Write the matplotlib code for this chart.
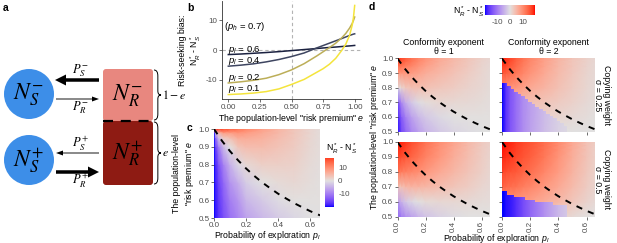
import numpy as np
import matplotlib
matplotlib.use("Agg")
import matplotlib.pyplot as plt
from matplotlib.colors import ListedColormap, Normalize
from matplotlib.patches import Circle, FancyBboxPatch, Polygon, PathPatch
from matplotlib.path import Path

plt.rcParams["font.family"] = ["Liberation Sans", "DejaVu Sans"]
plt.rcParams["mathtext.fontset"] = "custom"
plt.rcParams["mathtext.rm"] = "Liberation Sans"
plt.rcParams["mathtext.it"] = "Liberation Sans:italic"
plt.rcParams["mathtext.bf"] = "Liberation Sans:bold"
plt.rcParams["axes.unicode_minus"] = False

# ---------------- data ----------------
# panel b: risk-seeking bias vs e for several p_l (p_h = 0.7)
b_e = [0.0, 0.1, 0.2, 0.3, 0.4, 0.5, 0.6, 0.7, 0.75, 0.8, 0.85, 0.9, 0.93, 0.96, 0.98, 0.99, 1.0]
b_pl = [0.6, 0.4, 0.2, 0.1]
b_p06 = [-1.54, -1.35, -1.1, -0.85, -0.55, -0.2, 0.15, 0.5, 0.68, 0.85, 1.0, 1.18, 1.28, 1.38, 1.45, 1.5, 1.54]
b_p04 = [-5.45, -5.1, -4.65, -4.0, -3.2, -2.2, -1.0, 0.7, 1.5, 2.3, 3.1, 3.9, 4.4, 4.9, 5.2, 5.35, 5.45]
b_p02 = [-11.1, -10.7, -10.2, -9.5, -8.3, -6.7, -4.6, -2.0, -0.6, 0.8, 2.3, 4.2, 5.6, 7.4, 8.9, 9.9, 11.1]
b_p01 = [-15.0, -14.8, -14.5, -14.0, -13.1, -11.6, -9.9, -7.5, -6.3, -4.8, -2.8, 0.0, 2.0, 5.0, 8.3, 10.8, 15.0]
b_colors = ["#1b2140", "#3e4560", "#bcae58", "#f4e43c"]

# heat-map grids (rows: e, columns: p_l)
hm_p = [0.0, 0.01, 0.03, 0.06, 0.1, 0.15, 0.2, 0.3, 0.4, 0.5, 0.6, 0.66]
hm_e = [0.5, 0.6, 0.7, 0.8, 0.9, 0.95, 0.98, 1.0]

c_vals = [
    [-20, -19.0, -17.0, -14.5, -11.3, -9.0, -6.3, -4.0, -2.2, -1.0, -0.15, -0.05],
    [-20, -18.8, -16.5, -13.5, -9.8, -7.5, -4.2, -2.2, -0.6, 0.2, 0.25, 0.2],
    [-20, -18.5, -15.5, -12.0, -7.6, -5.0, -2.0, 0.0, 0.8, 1.2, 0.55, 0.3],
    [-20, -18.0, -14.0, -9.5, -4.8, -1.0, 1.0, 2.3, 2.2, 2.0, 0.85, 0.4],
    [-20, -16.0, -10.0, -3.5, 0.0, 3.5, 4.4, 4.6, 3.7, 2.7, 1.2, 0.5],
    [-20, -12.0, -3.0, 2.5, 4.0, 6.5, 6.5, 5.8, 4.5, 3.0, 1.35, 0.55],
    [-20, -3.0, 5.0, 9.0, 8.5, 9.5, 8.5, 6.8, 5.0, 3.2, 1.45, 0.58],
    [19.5, 19.0, 18.0, 16.8, 15.0, 12.9, 11.1, 8.0, 5.45, 3.33, 1.54, 0.6],
]

# panel d: theta = 1, sigma = 0.25
d_tl = [
    [-20, -18.5, -15, -12, -9, -6.5, -4.5, -2.5, -1.2, -0.5, -0.1, 0.0],
    [-19.5, -17, -13, -9.5, -6.5, -4, -2.5, -0.8, 0.0, 0.3, 0.3, 0.2],
    [-17, -13, -8.5, -5, -2.5, -0.5, 0.5, 1.3, 1.2, 1.0, 0.7, 0.4],
    [-1, 0, 1.5, 3, 4, 4.2, 4, 3.2, 2.5, 1.8, 1.1, 0.7],
    [9, 9, 9, 9, 8.5, 7.5, 6.5, 5, 3.8, 2.6, 1.5, 0.9],
    [14, 13.5, 13, 12, 11, 9.5, 8, 6, 4.5, 3, 1.7, 1.0],
    [17, 16.5, 15.5, 14, 12.5, 10.5, 9, 6.5, 4.8, 3.2, 1.8, 1.1],
    [19, 18, 17, 15, 13, 11, 9.5, 7, 5, 3.5, 2, 1.2],
]
# theta = 1, sigma = 0.5
d_bl = [
    [-14, -12, -10, -8, -6.5, -4.5, -3, -1.5, -0.5, 0, 0.1, 0.1],
    [-8, -6.5, -4.5, -2.5, -1, 0, 0.8, 1.2, 1.2, 1.0, 0.7, 0.5],
    [3, 3.5, 4, 5, 5.5, 5.5, 5.3, 4.5, 3.5, 2.5, 1.5, 1.0],
    [13, 12.5, 12, 11.5, 11, 10, 9, 7, 5.2, 3.6, 2.2, 1.4],
    [17.5, 17, 16.5, 15.5, 14.5, 13, 11.5, 9, 6.5, 4.4, 2.6, 1.6],
    [19, 18.5, 18, 17, 15.5, 14, 12.3, 9.5, 7, 4.7, 2.8, 1.8],
    [19.5, 19, 18.5, 17.5, 16, 14.5, 12.7, 9.8, 7.3, 4.9, 2.9, 1.9],
    [20, 19.5, 19, 18, 16.5, 15, 13, 10, 7.5, 5, 3, 2],
]
# theta = 2, sigma = 0.25 : risk-seeking branch and risk-averse branch
d_tr_hi = [
    [1, 1, 1, 1, 1, 0.8, 0.5, 0.3, 0.1, 0, 0, 0],
    [3, 3, 3, 3, 2.8, 2.5, 2.2, 2.0, 1.5, 1.0, 0.5, 0.3],
    [6, 6, 5.5, 5.3, 5, 4.5, 4, 3.5, 2.8, 1.9, 1.0, 0.6],
    [11, 10.5, 10, 9.5, 9, 8, 7, 5.5, 4, 2.6, 1.4, 0.8],
    [16, 15.5, 15, 14, 12.5, 11, 9.5, 7, 4.8, 3.1, 1.7, 1.0],
    [18, 17.5, 17, 15.5, 14, 12, 10.3, 7.5, 5.1, 3.3, 1.8, 1.0],
    [19, 18.5, 18, 16.5, 14.5, 12.5, 10.7, 7.8, 5.3, 3.4, 1.9, 1.1],
    [19.5, 19, 18.5, 17, 15, 13, 11, 8, 5.5, 3.5, 2, 1.2],
]
lo_e = [0.5, 0.9]
d_tr_lo = [
    [-20, -19.5, -17, -14, -11.5, -8.5, -6.5, -3.5, -1.5, -0.5, 0, 0],
    [-20, -19.5, -17, -14, -11.5, -8.5, -7, -4, -2, -1, 0, 0],
]
tr_step_p = [0.0, 0.0375, 0.0625, 0.0875, 0.1125, 0.1375, 0.1625, 0.1875, 0.2125, 0.2375,
             0.2625, 0.2875, 0.3125, 0.3375, 0.3625, 0.3875, 0.4125, 0.4375, 0.4625]
tr_step_e = [0.83, 0.81, 0.79, 0.77, 0.755, 0.74, 0.72, 0.705, 0.69, 0.67,
             0.655, 0.64, 0.62, 0.605, 0.59, 0.57, 0.555, 0.54]
# theta = 2, sigma = 0.5
d_br_hi = [
    [6, 6, 5.5, 5.5, 5, 4.5, 4, 3, 2, 1, 0.3, 0],
    [11, 10.5, 10, 9.5, 9, 8.5, 8, 6.5, 5, 3.4, 1.8, 1.0],
    [15, 14.5, 14, 13.5, 13, 12, 11, 9, 7, 4.8, 2.7, 1.6],
    [17.5, 17, 16.5, 16, 15.5, 14.5, 13.5, 11, 8.5, 5.7, 3.2, 1.9],
    [19, 19, 18.5, 18, 17, 16, 15, 12.5, 9.5, 6.4, 3.6, 2.2],
    [19.8, 19.5, 19, 18.5, 17.5, 16.5, 15.5, 13, 10, 6.7, 3.8, 2.3],
    [20, 19.8, 19.3, 18.8, 17.8, 16.8, 15.8, 13.3, 10.3, 6.9, 3.9, 2.4],
    [20, 20, 19.5, 19, 18, 17, 16, 13.5, 10.5, 7, 4, 2.5],
]
d_br_lo = [
    [-20, -20, -19.5, -19, -17.5, -15, -12.5, -8, -4, -1.5, -0.3, 0],
    [-20, -20, -19.5, -19, -17.5, -15, -12.5, -8, -4, -1.5, -0.3, 0],
]
br_step_p = [0.0, 0.0375, 0.0875, 0.1625, 0.2375, 0.3625, 0.4625]
br_step_e = [0.671, 0.646, 0.629, 0.61, 0.60, 0.58]

# boundary (dashed) where N_R = N_S in the asocial model
dash_p = [0.0, 0.05, 0.1, 0.15, 0.2, 0.25, 0.3, 0.35, 0.4, 0.45, 0.5, 0.55, 0.6, 0.66]
dash_e = [1.0, 0.933, 0.875, 0.824, 0.778, 0.737, 0.70, 0.667, 0.636, 0.609, 0.583, 0.56, 0.538, 0.515]

col_titles = ["Conformity exponent\n\u03b8 = 1", "Conformity exponent\n\u03b8 = 2"]
row_titles = ["Copying weight\n\u03c3 = 0.25", "Copying weight\n\u03c3 = 0.5"]

# ---------------- colour scale (Lab interpolation, like ggplot) ----------------
_M = np.array([[0.4124, 0.3576, 0.1805], [0.2126, 0.7152, 0.0722], [0.0193, 0.1192, 0.9505]])
_WP = np.array([0.95047, 1.0, 1.08883])

def srgb2lab(c):
    c = np.asarray(c, float)
    lin = np.where(c <= 0.04045, c / 12.92, ((c + 0.055) / 1.055) ** 2.4)
    xyz = _M @ lin / _WP
    f = np.where(xyz > 0.008856, np.cbrt(xyz), 7.787 * xyz + 16 / 116)
    return np.array([116 * f[1] - 16, 500 * (f[0] - f[1]), 200 * (f[1] - f[2])])

def lab2srgb(lab):
    L, a, b = lab
    fy = (L + 16) / 116
    f = np.array([fy + a / 500, fy, fy - b / 200])
    xyz = np.where(f ** 3 > 0.008856, f ** 3, (f - 16 / 116) / 7.787) * _WP
    lin = np.linalg.solve(_M, xyz)
    lin = np.clip(lin, 0, None)
    c = np.where(lin <= 0.0031308, 12.92 * lin, 1.055 * lin ** (1 / 2.4) - 0.055)
    return np.clip(c, 0, 1)

lab_lo = srgb2lab([0, 0, 1]); lab_mid = srgb2lab([0.88, 0.88, 0.88]); lab_hi = srgb2lab([1, 0, 0])
cols = []
for t in np.linspace(0, 1, 256):
    if t < 0.5:
        lab = lab_lo + (lab_mid - lab_lo) * (t / 0.5)
    else:
        lab = lab_mid + (lab_hi - lab_mid) * ((t - 0.5) / 0.5)
    cols.append(lab2srgb(lab))
cmap = ListedColormap(cols)
norm = Normalize(-20, 20)

# ---------------- figure ----------------
W, H = 617, 243
fig = plt.figure(figsize=(W / 100, H / 100), dpi=100)

def box(l, t, r, b):
    return [l / W, 1 - b / H, (r - l) / W, (b - t) / H]

TICK_FS = 5.8
LAB_FS = 6.3
TCOL = "#4d4d4d"

# ---- panel a (diagram, pixel coordinates) ----
axa = fig.add_axes([0, 0, 1, 1])
axa.set_xlim(0, W); axa.set_ylim(H, 0); axa.axis("off")
for lab_txt, (x, y) in [("a", (3, 8)), ("b", (187, 8)), ("c", (187, 128)), ("d", (369, 7))]:
    axa.text(x, y, lab_txt, fontsize=7.5, fontweight="bold", va="center", ha="left")

circ_blue = "#3d8ee8"
for cy, txt in [(94, r"$N_S^{-}$"), (160, r"$N_S^{+}$")]:
    axa.add_patch(Circle((29, cy), 25, color=circ_blue, lw=0))
    axa.text(29, cy + 1, txt, fontsize=17, ha="center", va="center", math_fontfamily="stix")
axa.add_patch(FancyBboxPatch((103, 69), 50, 52, boxstyle="round,pad=0,rounding_size=3",
                             fc="#e8877f", ec="none"))
axa.add_patch(FancyBboxPatch((103, 121), 50, 64, boxstyle="round,pad=0,rounding_size=3",
                             fc="#8e1b13", ec="none"))
axa.plot([103, 153], [121, 121], color="black", lw=1.6, dashes=(4.5, 3.5))
axa.text(128, 96, r"$N_R^{-}$", fontsize=17, ha="center", va="center", math_fontfamily="stix")
axa.text(128, 154, r"$N_R^{+}$", fontsize=17, ha="center", va="center", math_fontfamily="stix")

def arrow(x0, x1, y, thick):
    if thick:
        axa.arrow(x0, y, x1 - x0, 0, width=3.5, head_width=11, head_length=11,
                  length_includes_head=True, color="black", lw=0)
    else:
        axa.arrow(x0, y, x1 - x0, 0, width=0.9, head_width=5, head_length=7,
                  length_includes_head=True, color="black", lw=0)

arrow(99, 55, 80, True)
arrow(56, 99, 99, False)
arrow(99, 56, 153, False)
arrow(56, 99, 172, True)
axa.text(80, 71, r"$P_S^{-}$", fontsize=9, ha="center", va="center", math_fontfamily="stix")
axa.text(80, 108, r"$P_R^{-}$", fontsize=9, ha="center", va="center", math_fontfamily="stix")
axa.text(80, 144, r"$P_S^{+}$", fontsize=9, ha="center", va="center", math_fontfamily="stix")
axa.text(80, 181, r"$P_R^{+}$", fontsize=9, ha="center", va="center", math_fontfamily="stix")

def brace(x0, y0, y1, w=7):
    ym = (y0 + y1) / 2
    xm = x0 + w * 0.55
    verts = [(x0, y0), (xm, y0), (xm, y0 + 6), (xm, ym - 4), (xm, ym), (x0 + w, ym),
             (xm, ym), (xm, ym + 4), (xm, y1 - 6), (xm, y1), (x0, y1)]
    codes = [Path.MOVETO, Path.CURVE3, Path.CURVE3, Path.LINETO, Path.CURVE3, Path.CURVE3,
             Path.CURVE3, Path.CURVE3, Path.LINETO, Path.CURVE3, Path.CURVE3]
    axa.add_patch(PathPatch(Path(verts, codes), fc="none", ec="black", lw=0.7))

brace(154, 70, 120)
brace(154, 122, 184)
axa.text(162, 95, r"$1-e$", fontsize=8.5, ha="left", va="center", math_fontfamily="stix")
axa.text(162, 153, r"$e$", fontsize=8.5, ha="left", va="center", math_fontfamily="stix")

# ---- panel b ----
axb = fig.add_axes(box(222, 1, 361, 99))
axb.axvline(0.5, color="#b3b3b3", lw=0.8, ls=(0, (3, 2.5)))
axb.axhline(0, color="#b3b3b3", lw=0.8, ls=(0, (3, 2.5)))
for ys, c in zip([b_p06, b_p04, b_p02, b_p01], b_colors):
    axb.plot(b_e, ys, color=c, lw=1.1)
for pl, ys in zip(b_pl, [b_p06, b_p04, b_p02, b_p01]):
    axb.text(-0.005, ys[0] + 1.7, rf"$p_l$ = {pl}", fontsize=6.8, ha="left", va="center")
axb.text(-0.035, 8.0, r"($p_h$ = 0.7)", fontsize=6.8, ha="left", va="center")
axb.set_xlim(-0.05, 1.05); axb.set_ylim(-16.5, 16.5)
axb.set_xticks([0, 0.25, 0.5, 0.75, 1.0], ["0.00", "0.25", "0.50", "0.75", "1.00"])
axb.set_yticks([-10, 0, 10])
axb.set_xlabel(r'The population-level "risk premium" $e$', fontsize=LAB_FS, labelpad=1)
axb.set_ylabel("Risk-seeking bias:\n" + r"N$^*_R$ - N$^*_S$", fontsize=LAB_FS, labelpad=2)
for s in ["top", "right"]:
    axb.spines[s].set_visible(False)
for s in ["left", "bottom"]:
    axb.spines[s].set_color("#333333"); axb.spines[s].set_linewidth(0.6)
axb.tick_params(labelsize=TICK_FS, colors="#333333", labelcolor=TCOL, length=2, width=0.5, pad=1.5)

def heat(ax, vals, pvals=hm_p, evals=hm_e, clip=None):
    m = ax.pcolormesh(pvals, evals, np.array(vals, float), cmap=cmap, norm=norm,
                      shading="gouraud")
    if clip is not None:
        sp, se = clip
        verts = [(sp[0], 0.5)]
        for i in range(len(se)):
            verts += [(sp[i], se[i]), (sp[i + 1], se[i])]
        verts += [(sp[-1], 0.5)]
        poly = Polygon(verts, closed=True, transform=ax.transData, fc="none", ec="none")
        m.set_clip_path(poly)
    return m

def style_hm(ax, xlabels=True, ylabels=True):
    ax.set_xlim(0, 0.66); ax.set_ylim(0.5, 1.0)
    for s in ax.spines.values():
        s.set_visible(False)
    ax.set_xticks([0, 0.2, 0.4, 0.6], ["0.0", "0.2", "0.4", "0.6"] if xlabels else [])
    ax.set_yticks([0.5, 0.6, 0.7, 0.8, 0.9, 1.0],
                  ["0.5", "0.6", "0.7", "0.8", "0.9", "1.0"] if ylabels else [])
    ax.tick_params(labelsize=TICK_FS, colors="#333333", labelcolor=TCOL, length=2, width=0.5, pad=1.2)
    ax.plot(dash_p, dash_e, color="black", lw=1.4, dashes=(3.2, 3.2))

# ---- panel c ----
axc = fig.add_axes(box(214, 129, 320, 218))
heat(axc, c_vals)
style_hm(axc)
fig.text(267 / W, 1 - 235.5 / H, r"Probability of exploration $p_l$", fontsize=LAB_FS,
         ha="center", va="center")
axc.set_ylabel('The population-level\n"risk premium" $e$', fontsize=LAB_FS, labelpad=2)

cbc = fig.add_axes(box(325, 158, 334, 207))
cbc_rng = [-20, 17.5]
cbc.imshow(np.linspace(cbc_rng[0], cbc_rng[1], 200)[:, None], cmap=cmap, norm=norm,
           aspect="auto", origin="lower", extent=[0, 1, cbc_rng[0], cbc_rng[1]])
cbc.set_xticks([]); cbc.yaxis.tick_right()
cbc.set_yticks([-10, 0, 10])
cbc.tick_params(axis="y", labelsize=TICK_FS, labelcolor=TCOL, length=2, width=0.5,
                colors="white", pad=1)
for s in cbc.spines.values():
    s.set_visible(False)
fig.text(326 / W, 1 - 149 / H, r"N$^*_R$ - N$^*_S$", fontsize=6.3, ha="left", va="center")

# ---- panel d ----
boxes = {
    (0, 0): box(397.5, 58.5, 490, 131.5),
    (0, 1): box(502, 58.5, 595, 131.5),
    (1, 0): box(397.5, 142, 490, 216.5),
    (1, 1): box(502, 142, 595, 216.5),
}
axes_d = {}
for (r, c), bx in boxes.items():
    ax = fig.add_axes(bx)
    axes_d[(r, c)] = ax
heat(axes_d[(0, 0)], d_tl)
heat(axes_d[(1, 0)], d_bl)
heat(axes_d[(0, 1)], d_tr_hi)
heat(axes_d[(0, 1)], d_tr_lo, evals=lo_e, clip=(tr_step_p, tr_step_e))
heat(axes_d[(1, 1)], d_br_hi)
heat(axes_d[(1, 1)], d_br_lo, evals=lo_e, clip=(br_step_p, br_step_e))
for (r, c), ax in axes_d.items():
    style_hm(ax, xlabels=(r == 1), ylabels=(c == 0))
    if r == 1:
        for lbl in ax.get_xticklabels():
            lbl.set_rotation(90)
    if r == 0:
        ax.set_title(col_titles[c], fontsize=LAB_FS, pad=3, linespacing=1.0)
    if c == 1:
        ax.text(1.08, 0.5, row_titles[r], rotation=-90, transform=ax.transAxes,
                fontsize=LAB_FS, ha="center", va="center", linespacing=1.0)
fig.text(374.5 / W, 1 - 137 / H, 'The population-level "risk premium" $e$', rotation=90,
         fontsize=LAB_FS, ha="center", va="center")
fig.text(496 / W, 1 - 238 / H, r"Probability of exploration $p_l$", fontsize=LAB_FS,
         ha="center", va="center")

cbd = fig.add_axes(box(485, 5, 535, 15))
cbd.imshow(np.linspace(-20, 20, 200)[None, :], cmap=cmap, norm=norm, aspect="auto",
           extent=[-20, 20, 0, 1])
cbd.set_yticks([]); cbd.set_xticks([-10, 0, 10])
cbd.tick_params(axis="x", labelsize=TICK_FS, labelcolor=TCOL, length=2, width=0.5,
                colors="white", pad=1)
for s in cbd.spines.values():
    s.set_visible(False)
fig.text(469 / W, 1 - 12 / H, r"N$^*_R$ - N$^*_S$", fontsize=6.3, ha="center", va="center")

fig.savefig("out.png", dpi=100)
